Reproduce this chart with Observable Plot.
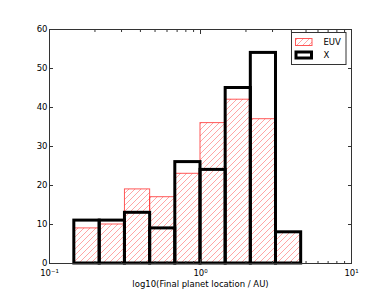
<!DOCTYPE html>
<html>
<head>
<meta charset="utf-8">
<script src="https://cdn.jsdelivr.net/npm/d3@7"></script>
<script src="https://cdn.jsdelivr.net/npm/@observablehq/plot@0.6"></script>
<style>
  html, body { margin: 0; padding: 0; background: #fff; }
  svg { display: block; }
</style>
</head>
<body>
<div id="chart"></div>
<script>
// Bin edges (AU), log-spaced
const binEdges = [0.146, 0.215, 0.316, 0.464, 0.681, 1.0, 1.468, 2.154, 3.162, 4.642];
// Counts per bin
const euvCounts = [9, 10, 19, 17, 23, 36, 42, 37, 8];
const xCounts = [11, 11, 13, 9, 26, 24, 45, 54, 8];
const seriesNames = ["EUV", "X"];
const yTicks = [0, 10, 20, 30, 40, 50, 60];
const xMajorTicks = [0.1, 1, 10];
const xTickLabels = ["10⁻¹", "10⁰", "10¹"];
const xMinorTicks = [0.2, 0.3, 0.4, 0.5, 0.6, 0.7, 0.8, 0.9, 2, 3, 4, 5, 6, 7, 8, 9];
const xLabel = "log10(Final planet location / AU)";

const bins = euvCounts.map((v, i) => ({x1: binEdges[i], x2: binEdges[i + 1], euv: v, x: xCounts[i]}));

const fmt = d => xTickLabels[xMajorTicks.indexOf(d)] ?? "";

const plot = Plot.plot({
  width: 390,
  height: 293,
  marginLeft: 49,
  marginRight: 39,
  marginTop: 29,
  marginBottom: 30,
  style: {fontFamily: "DejaVu Sans", fontSize: "8.5px", color: "#000", background: "#fff"},
  x: {type: "log", domain: [0.1, 10]},
  y: {domain: [0, 60]},
  marks: [
    Plot.rectY(bins, {x1: "x1", x2: "x2", y: "euv", fill: "url(#hatch)", stroke: "#ff3030", strokeOpacity: 0.8, strokeWidth: 1}),
    Plot.rectY(bins, {x1: "x1", x2: "x2", y: "x", fill: "none", stroke: "#000", strokeWidth: 3}),
    Plot.frame({stroke: "#333", strokeWidth: 1}),
    Plot.axisX(xMajorTicks, {anchor: "bottom", tickSize: -4, tickPadding: 10, tickFormat: fmt, label: null, stroke: "#333"}),
    Plot.axisX(xMinorTicks, {anchor: "bottom", tickSize: -2, tickFormat: () => "", label: null, stroke: "#333"}),
    Plot.axisX(xMajorTicks, {anchor: "top", tickSize: -4, tickFormat: () => "", label: null, stroke: "#333"}),
    Plot.axisX(xMinorTicks, {anchor: "top", tickSize: -2, tickFormat: () => "", label: null, stroke: "#333"}),
    Plot.axisY(yTicks, {anchor: "left", tickSize: -4, tickPadding: 6, label: null, stroke: "#333"}),
    Plot.axisY(yTicks, {anchor: "right", tickSize: -4, tickFormat: () => "", label: null, stroke: "#333"}),
    Plot.text([xLabel], {text: d => d, frameAnchor: "bottom", dy: 23, fill: "#000"})
  ]
});

document.getElementById("chart").appendChild(plot);

const svg = d3.select(plot);
const defs = svg.insert("defs", ":first-child");
const pat = defs.append("pattern")
  .attr("id", "hatch")
  .attr("patternUnits", "userSpaceOnUse")
  .attr("width", 6).attr("height", 6);
pat.append("path")
  .attr("d", "M-1,1 L1,-1 M0,6 L6,0 M5,7 L7,5")
  .attr("style", "stroke: #ff8080; stroke-width: 0.7; fill: none");

// Legend
const lg = svg.append("g").attr("font-family", "DejaVu Sans").attr("font-size", "8.5px").attr("text-anchor", "start");
lg.append("rect").attr("x", 291.5).attr("y", 32.5).attr("width", 54.5).attr("height", 32)
  .attr("fill", "#fff").attr("stroke", "#333").attr("stroke-width", 1);
lg.append("rect").attr("x", 295.5).attr("y", 38.5).attr("width", 16.5).attr("height", 7)
  .attr("fill", "url(#hatch)").attr("stroke", "#ff3030").attr("stroke-opacity", 0.8);
lg.append("rect").attr("x", 296).attr("y", 52).attr("width", 15.5).attr("height", 6)
  .attr("fill", "none").attr("stroke", "#000").attr("stroke-width", 3);
lg.append("text").attr("x", 323.5).attr("y", 42).attr("dy", "0.35em").attr("fill", "#000").text(seriesNames[0]);
lg.append("text").attr("x", 323.5).attr("y", 55.5).attr("dy", "0.35em").attr("fill", "#000").text(seriesNames[1]);
</script>
</body>
</html>
